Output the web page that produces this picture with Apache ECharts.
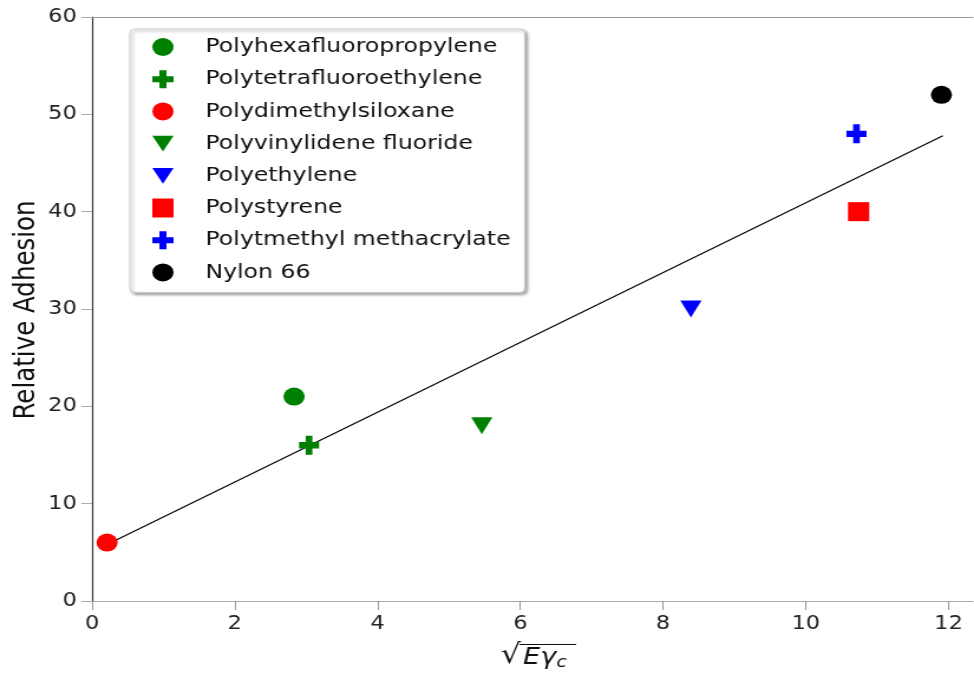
<!DOCTYPE html>
<html>
<head>
<meta charset="utf-8">
<script src="https://cdn.jsdelivr.net/npm/echarts@6/dist/echarts.min.js"></script>
<style>
html,body{margin:0;padding:0;background:#fff;overflow:hidden}
#c{width:825px;height:678px;transform:scaleX(1.18061);transform-origin:0 0}
</style>
</head>
<body>
<div id="c"></div>
<script>
// Data
const materials = ['Polyhexafluoropropylene','Polytetrafluoroethylene','Polydimethylsiloxane','Polyvinylidene fluoride','Polyethylene','Polystyrene','Polytmethyl methacrylate','Nylon 66'];
const xValues = [2.83, 3.04, 0.21, 5.46, 8.39, 10.74, 10.71, 11.9];
const yValues = [21, 16, 6, 18, 30, 40, 48, 52];
const colors = ['#008000','#008000','#ff0000','#008000','#0000ff','#ff0000','#0000ff','#000000'];
const shapes = ['circle','plus','circle','down','down','square','plus','circle'];
const fitX = [0.21, 11.92];
const fitY = [5.8, 47.8];
const xTicks = [0, 2, 4, 6, 8, 10, 12];
const yTicks = [0, 10, 20, 30, 40, 50, 60];

const symbolMap = {
  circle: 'circle',
  plus: 'path://M-1,-3H1V-1H3V1H1V3H-1V1H-3V-1H-1Z',
  down: 'path://M0,0L2,0L1,1.75Z',
  square: 'rect'
};
const sizeMap = { circle: 18, plus: [17, 19], down: [18, 17], square: [18, 19] };

const FONT = 'DejaVu Sans';
const series = materials.map((m, i) => ({
  name: m,
  type: 'scatter',
  symbol: symbolMap[shapes[i]],
  symbolSize: sizeMap[shapes[i]],
  itemStyle: { color: colors[i], opacity: 1 },
  data: [[xValues[i], yValues[i]]],
  z: 3
}));
series.unshift({
  name: 'fit',
  type: 'line',
  data: fitX.map((x, i) => [x, fitY[i]]),
  symbol: 'none',
  lineStyle: { color: '#000', width: 1.2 },
  z: 2
});

const chart = echarts.init(document.getElementById('c'), null, { width: 825, height: 678 });
chart.setOption({
  animation: false,
  backgroundColor: '#fff',
  grid: { left: 78, top: 17, right: 1, bottom: 77 },
  legend: {
    data: materials,
    orient: 'vertical',
    left: 110,
    top: 29,
    padding: [8, 12, 10, 19],
    itemWidth: 18,
    itemHeight: 19,
    itemGap: 12.2,
    backgroundColor: '#fff',
    borderColor: '#cccccc',
    borderWidth: 1,
    borderRadius: 4,
    shadowBlur: 3,
    shadowOffsetX: 2,
    shadowOffsetY: 2,
    shadowColor: 'rgba(0,0,0,0.35)',
    textStyle: { fontFamily: FONT, fontSize: 20, color: '#111', lineHeight: 20, padding: [0, 0, 0, 22] }
  },
  xAxis: [{
    type: 'value',
    min: 0,
    max: 12.34,
    interval: 2,
    splitLine: { show: false },
    axisLine: { lineStyle: { color: '#aaaaaa', width: 1.2 } },
    axisTick: { length: 9, lineStyle: { color: '#999' }, customValues: xTicks },
    axisLabel: { fontFamily: FONT, fontSize: 19, color: '#222', margin: 14, customValues: xTicks }
  }, {
    type: 'value',
    position: 'top',
    min: 0,
    max: 12.34,
    axisLine: { show: true, lineStyle: { color: '#999', width: 1.2 } },
    axisTick: { show: false },
    axisLabel: { show: false },
    splitLine: { show: false }
  }],
  yAxis: {
    type: 'value',
    min: 0,
    max: 60,
    interval: 10,
    splitLine: { show: false },
    axisLine: { show: true, lineStyle: { color: '#333', width: 1.2 } },
    axisTick: { length: 9, lineStyle: { color: '#aaa' }, customValues: yTicks },
    axisLabel: { fontFamily: FONT, fontSize: 19, color: '#222', margin: 13, customValues: yTicks }
  },
  graphic: [
    {
      type: 'text', x: 22.5, y: 310, rotation: Math.PI / 2,
      style: { text: 'Relative Adhesion', fontFamily: FONT, fontSize: 24.5, fill: '#111', align: 'center', verticalAlign: 'middle' }
    },
    {
      type: 'text', x: 424, y: 642,
      style: { text: '√', fontFamily: FONT, fontSize: 27, fill: '#111', align: 'left', verticalAlign: 'top' }
    },
    {
      type: 'line', shape: { x1: 440, y1: 644.5, x2: 488, y2: 644.5 }, style: { stroke: '#111', lineWidth: 1.1 }
    },
    {
      type: 'text', x: 443, y: 658,
      style: {
        text: '{a|Eγ}{b|c}', align: 'left', verticalAlign: 'middle',
        rich: {
          a: { fontFamily: FONT, fontStyle: 'italic', fontSize: 23, fill: '#111' },
          b: { fontFamily: FONT, fontStyle: 'italic', fontSize: 16, fill: '#111', padding: [9, 0, 0, 0] }
        }
      }
    }
  ],
  series: series
});
</script>
</body>
</html>
